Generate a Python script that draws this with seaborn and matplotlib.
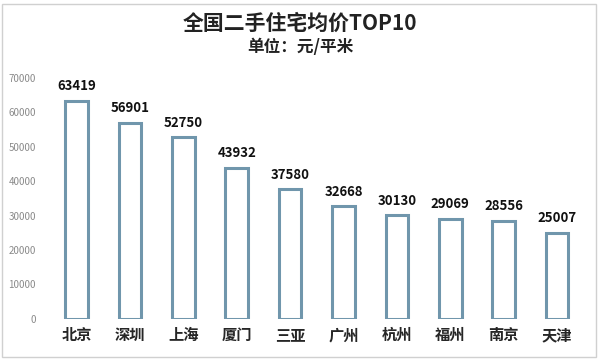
import matplotlib
matplotlib.use("Agg")
import matplotlib.pyplot as plt
import seaborn as sns
import pandas as pd

# 数据
cities = ["北京", "深圳", "上海", "厦门", "三亚", "广州", "杭州", "福州", "南京", "天津"]
prices = [63419, 56901, 52750, 43932, 37580, 32668, 30130, 29069, 28556, 25007]
yticks = [0, 10000, 20000, 30000, 40000, 50000, 60000, 70000]

df = pd.DataFrame({"city": cities, "price": prices})

sns.set_style("white")
plt.rcParams["font.family"] = ["Noto Sans CJK SC", "DejaVu Sans"]

fig = plt.figure(figsize=(6, 3.61), dpi=100)
ax = fig.add_axes([0.083, 0.117, 0.89, 0.667])

sns.barplot(data=df, x="city", y="price", color="white", edgecolor="#7096ac",
            linewidth=2.2, width=0.42, ax=ax)

# 数值标签
for i, v in enumerate(prices):
    ax.text(i, v + 2200, str(v), ha="center", va="bottom", fontsize=9.5,
            fontweight="bold", color="#111111")

ax.set_ylim(0, 70000)
ax.set_yticks(yticks)
ax.set_yticklabels([str(t) for t in yticks], fontsize=7, color="#8a8a8a")
ax.tick_params(axis="x", labelsize=11, length=0, pad=6)
ax.tick_params(axis="y", length=0, pad=10)
for lbl in ax.get_xticklabels():
    lbl.set_fontweight("bold")
ax.set_xlabel("")
ax.set_ylabel("")
for s in ax.spines.values():
    s.set_visible(False)

fig.text(0.5, 0.935, "全国二手住宅均价TOP10", ha="center", va="center",
         fontsize=15, fontweight="bold", color="#222222")
fig.text(0.5, 0.87, "单位：元/平米", ha="center", va="center",
         fontsize=12, fontweight="bold", color="#222222")

# 外框
fig.patches.append(plt.Rectangle((0.003, 0.01), 0.99, 0.98, transform=fig.transFigure,
                                 fill=False, edgecolor="#d0d0d0", linewidth=1))

fig.savefig("out.png", dpi=100)
